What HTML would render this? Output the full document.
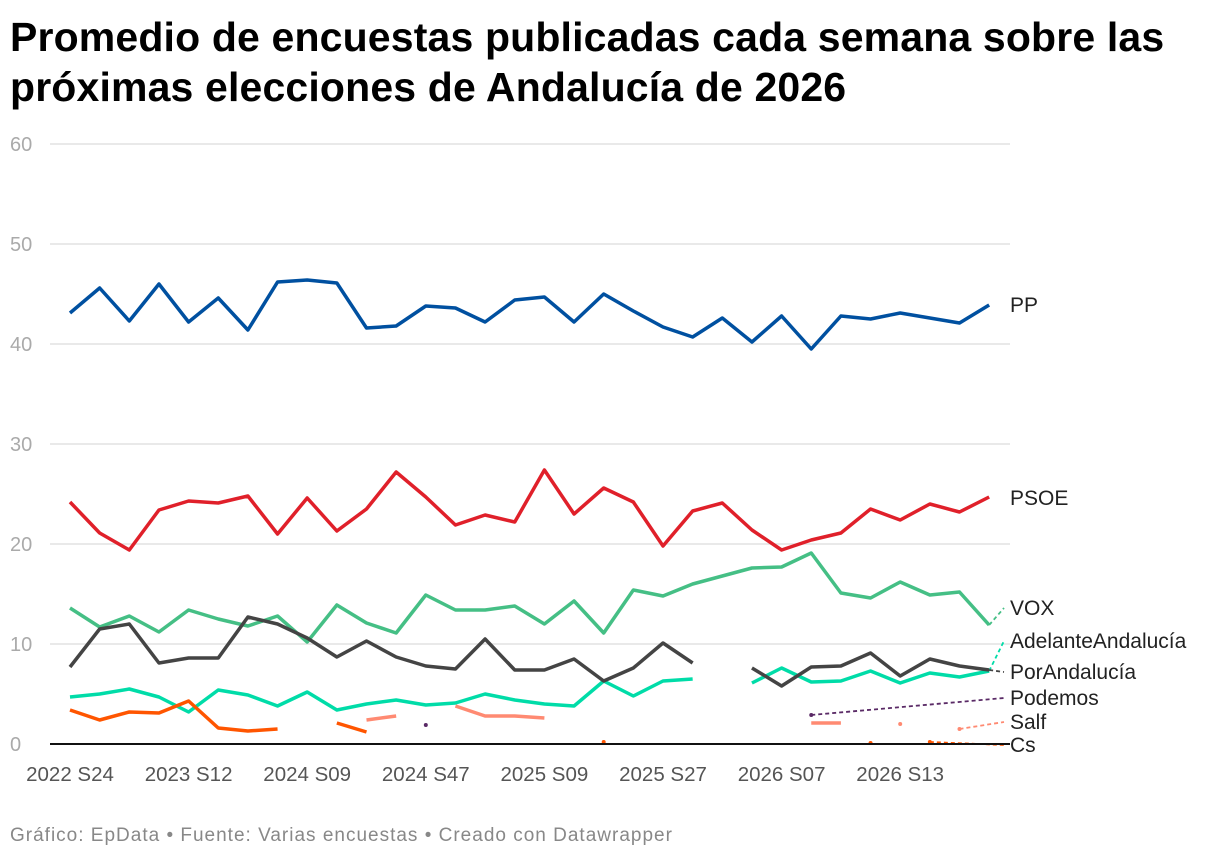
<!DOCTYPE html>
<html><head><meta charset="utf-8"><style>
body{margin:0;width:1220px;height:860px;background:#fff;font-family:"Liberation Sans",Roboto,sans-serif;overflow:hidden}
h1{position:absolute;left:10px;top:12px;margin:0;font-size:41px;line-height:50px;font-weight:bold;color:#000;letter-spacing:0.15px;white-space:nowrap}
#foot{position:absolute;left:10px;top:825px;font-size:19px;color:#888;letter-spacing:1px}
svg{position:absolute;left:0;top:0}
</style></head><body>
<h1>Promedio de encuestas publicadas cada semana sobre las<br>próximas elecciones de Andalucía de 2026</h1>
<svg id="c" width="1220" height="860"></svg>
<div id="foot">Gráfico: EpData • Fuente: Varias encuestas • Creado con Datawrapper</div>
<script>
const xLabels=["2022 S24","2023 S12","2024 S09","2024 S47","2025 S09","2025 S27","2026 S07","2026 S13"];
const xLabelIdx=[0,4,8,12,16,20,24,28];
const yTicks=[0,10,20,30,40,50,60];
const N=null;
const pp=[43.1,45.6,42.3,46.0,42.2,44.6,41.4,46.2,46.4,46.1,41.6,41.8,43.8,43.6,42.2,44.4,44.7,42.2,45.0,43.3,41.7,40.7,42.6,40.2,42.8,39.5,42.8,42.5,43.1,42.6,42.1,43.9];
const psoe=[24.2,21.1,19.4,23.4,24.3,24.1,24.8,21.0,24.6,21.3,23.5,27.2,24.7,21.9,22.9,22.2,27.4,23.0,25.6,24.2,19.8,23.3,24.1,21.4,19.4,20.4,21.1,23.5,22.4,24.0,23.2,24.7];
const vox=[13.6,11.7,12.8,11.2,13.4,12.5,11.8,12.8,10.2,13.9,12.1,11.1,14.9,13.4,13.4,13.8,12.0,14.3,11.1,15.4,14.8,16.0,16.8,17.6,17.7,19.1,15.1,14.6,16.2,14.9,15.2,11.9];
const adelante=[4.7,5.0,5.5,4.7,3.2,5.4,4.9,3.8,5.2,3.4,4.0,4.4,3.9,4.1,5.0,4.4,4.0,3.8,6.3,4.8,6.3,6.5,N,6.1,7.6,6.2,6.3,7.3,6.1,7.1,6.7,7.3];
const porand=[7.7,11.5,12.0,8.1,8.6,8.6,12.7,12.0,10.6,8.7,10.3,8.7,7.8,7.5,10.5,7.4,7.4,8.5,6.3,7.6,10.1,8.1,N,7.6,5.8,7.7,7.8,9.1,6.8,8.5,7.8,7.4];
const podemos=[N,N,N,N,N,N,N,N,N,N,N,N,1.9,N,N,N,N,N,N,N,N,N,N,N,N,2.9,N,N,N,N,N,N];
const salf=[N,N,N,N,N,N,N,N,N,N,2.4,2.8,N,3.8,2.8,2.8,2.6,N,N,N,N,N,N,N,N,2.1,2.1,N,2.0,N,1.5,N];
const cs=[3.4,2.4,3.2,3.1,4.3,1.6,1.3,1.5,N,2.1,1.2,N,N,N,N,N,N,N,0.2,N,N,N,N,N,N,N,N,0.1,N,0.2,N,N];
const series=[
 {name:"PP",v:pp,c:"#0050a0",ly:305,w:3.5},
 {name:"PSOE",v:psoe,c:"#e0202a",ly:498,w:3.5},
 {name:"VOX",v:vox,c:"#45bf85",ly:608,w:3.5},
 {name:"AdelanteAndalucía",v:adelante,c:"#00dca8",ly:641,w:3.5},
 {name:"PorAndalucía",v:porand,c:"#444444",ly:672,w:3.5},
 {name:"Podemos",v:podemos,c:"#5a2a66",ly:698,w:3.5},
 {name:"Salf",v:salf,c:"#ff8a72",ly:722,w:3.5},
 {name:"Cs",v:cs,c:"#ff5500",ly:745,w:3.5}
];
const x=i=>70+i*29.65, y=v=>744-v*10;
const s=document.getElementById('c'),NS="http://www.w3.org/2000/svg";
function el(t,a){const e=document.createElementNS(NS,t);for(const k in a)e.setAttribute(k,a[k]);s.appendChild(e);return e;}
yTicks.forEach(t=>{
 if(t>0){const g=el('line',{x1:50,x2:1010,y1:y(t),y2:y(t),stroke:'#e2e2e2','stroke-width':1.5});
 
 }
 const tx=el('text',{x:10,y:y(t)+7,'font-size':20,fill:'#aaa'});tx.textContent=t;
 
 
});
xLabels.forEach((l,k)=>{const tx=el('text',{x:x(xLabelIdx[k]),y:781,'font-size':20.5,fill:'#555','text-anchor':'middle'});tx.textContent=l;
 
 });
series.forEach(se=>{
 let segs=[],cur=[];
 se.v.forEach((v,i)=>{if(v===null){if(cur.length)segs.push(cur);cur=[];}else cur.push([x(i),y(v)]);});
 if(cur.length)segs.push(cur);
 segs.forEach(sg=>{
  if(sg.length==1){const d=el('circle',{cx:sg[0][0],cy:sg[0][1],r:2,fill:se.c});
   
   }
  else{const p=el('polyline',{points:sg.map(q=>q.join(',')).join(' '),fill:'none',stroke:se.c,'stroke-width':se.w,'stroke-linejoin':'round'});
   
   }
 });
 let li=-1;se.v.forEach((v,i)=>{if(v!==null)li=i;});
 if(se.name!="PP"&&se.name!="PSOE"){const cn=el('line',{x1:x(li),y1:y(se.v[li]),x2:1004,y2:se.ly,stroke:se.c,'stroke-width':1.8,'stroke-dasharray':'4,3'});
  
  }
 const lb=el('text',{x:1010,y:se.ly+7,'font-size':21,fill:'#222'});lb.textContent=se.name;
 
 
});
const base=el('line',{x1:50,x2:1010,y1:744,y2:744,stroke:'#111','stroke-width':2});


</script>
</body></html>
